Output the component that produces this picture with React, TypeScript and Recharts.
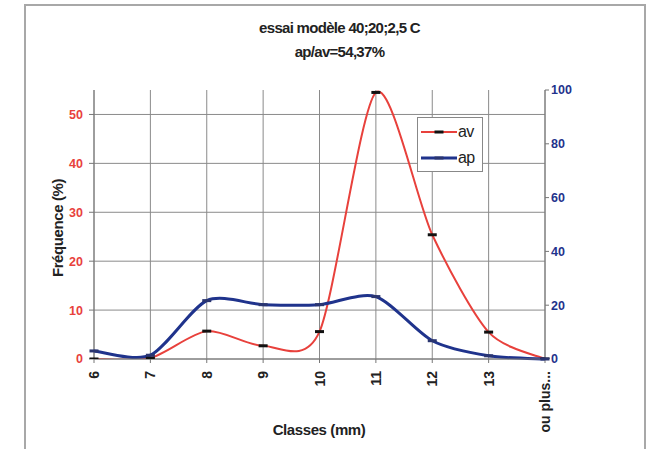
import React from "react";
import { LineChart, Line, XAxis, YAxis, CartesianGrid } from "recharts";

const classes = ["6", "7", "8", "9", "10", "11", "12", "13", "ou plus..."];
const avValues = [0, 0.2, 5.7, 2.7, 5.6, 54.5, 25.4, 5.5, 0];
const apValues = [3, 1.4, 21.7, 20.2, 20.2, 23.2, 6.8, 1.2, 0];
const leftTicks = [0, 10, 20, 30, 40, 50];
const rightTicks = [0, 20, 40, 60, 80, 100];

const data = classes.map((c, i) => ({ classe: c, av: avValues[i], ap: apValues[i] }));

const FONT = "'Liberation Sans', Arial, sans-serif";
const RED = "#e8413c";
const BLUE = "#1f338c";
const K = 7.5; // smoothing divisor

// Excel-like smooth line (cardinal bezier through the points)
const excelCurve = (context: any) => {
  let pts: [number, number][] = [];
  return {
    areaStart() {},
    areaEnd() {},
    lineStart() {
      pts = [];
    },
    point(x: number, y: number) {
      pts.push([+x, +y]);
    },
    lineEnd() {
      if (!pts.length) return;
      context.moveTo(pts[0][0], pts[0][1]);
      for (let i = 0; i < pts.length - 1; i++) {
        const p0 = pts[i - 1] || pts[i];
        const p1 = pts[i];
        const p2 = pts[i + 1];
        const p3 = pts[i + 2] || p2;
        context.bezierCurveTo(
          p1[0] + (p2[0] - p0[0]) / K,
          p1[1] + (p2[1] - p0[1]) / K,
          p2[0] - (p3[0] - p1[0]) / K,
          p2[1] - (p3[1] - p1[1]) / K,
          p2[0],
          p2[1]
        );
      }
    },
  };
};

const DashDot = (color: string) => (props: any) => {
  const { cx, cy, index } = props;
  if (cx == null || cy == null) return <g key={index} />;
  return <rect key={index} x={cx - 4.5} y={cy - 1.5} width={9} height={3} fill={color} />;
};

const XTick = (props: any) => {
  const { x, y, payload } = props;
  return (
    <text
      x={0}
      y={0}
      transform={`translate(${x + 5},${y + 6}) rotate(-90)`}
      textAnchor="end"
      fontSize={14}
      fontWeight="bold"
      fontFamily={FONT}
      fill="#222"
    >
      {payload.value}
    </text>
  );
};

export default function App() {
  return (
    <div style={{ position: "absolute", left: 0, top: 0, width: 653, height: 449, background: "#fff", overflow: "hidden" }}>
      <div
        style={{
          position: "absolute",
          left: 24,
          top: 4,
          width: 622,
          height: 460,
          border: "2px solid #a8a8a8",
          boxSizing: "border-box",
        }}
      />
      <div
        style={{
          position: "absolute",
          left: 0,
          width: 653,
          top: 16,
          textAlign: "center",
          fontFamily: FONT,
          fontWeight: "bold",
          fontSize: 15,
          letterSpacing: -0.7,
          lineHeight: "24px",
          color: "#222",
          paddingLeft: 26,
          boxSizing: "border-box",
        }}
      >
        <div>essai modèle 40;20;2,5 C</div>
        <div>ap/av=54,37%</div>
      </div>
      <LineChart
        width={653}
        height={449}
        data={data}
        margin={{ top: 90, right: 0, left: 0, bottom: 0 }}
        style={{ position: "absolute", left: 0, top: 0 }}
      >
        <CartesianGrid stroke="#8a8a8a" strokeWidth={1} yAxisId="left" horizontalValues={leftTicks} />
        <XAxis
          dataKey="classe"
          height={90}
          interval={0}
          tick={<XTick />}
          axisLine={{ stroke: "#777" }}
          tickLine={{ stroke: "#777" }}
          tickSize={4}
        />
        <YAxis
          yAxisId="left"
          width={94}
          domain={[0, 55]}
          ticks={leftTicks}
          allowDataOverflow
          tick={{ fill: RED, fontSize: 12.5, fontWeight: "bold", fontFamily: FONT, dx: -4 }}
          axisLine={{ stroke: "#777" }}
          tickLine={{ stroke: "#777" }}
          tickSize={5}
        />
        <YAxis
          yAxisId="right"
          orientation="right"
          width={108}
          domain={[0, 100]}
          ticks={rightTicks}
          tick={{ fill: BLUE, fontSize: 12.5, fontWeight: "bold", fontFamily: FONT }}
          axisLine={{ stroke: "#777" }}
          tickLine={{ stroke: "#777" }}
          tickSize={4}
        />
        <Line
          yAxisId="left"
          dataKey="av"
          type={excelCurve as any}
          stroke={RED}
          strokeWidth={2}
          dot={DashDot("#111")}
          isAnimationActive={false}
        />
        <Line
          yAxisId="right"
          dataKey="ap"
          type={excelCurve as any}
          stroke={BLUE}
          strokeWidth={3}
          dot={DashDot("#2a3570")}
          isAnimationActive={false}
        />
      </LineChart>
      <div
        style={{
          position: "absolute",
          left: 57,
          top: 228,
          transform: "translate(-50%, -50%) rotate(-90deg)",
          fontFamily: FONT,
          fontWeight: "bold",
          fontSize: 15,
          letterSpacing: -0.4,
          color: "#222",
          whiteSpace: "nowrap",
        }}
      >
        Fréquence (%)
      </div>
      <div
        style={{
          position: "absolute",
          left: 319,
          top: 429,
          transform: "translate(-50%, -50%)",
          fontFamily: FONT,
          fontWeight: "bold",
          fontSize: 15,
          letterSpacing: -0.4,
          color: "#222",
          whiteSpace: "nowrap",
        }}
      >
        Classes (mm)
      </div>
      <div
        style={{
          position: "absolute",
          left: 417,
          top: 117,
          width: 66,
          height: 55,
          border: "1px solid #888",
          background: "#fff",
          boxSizing: "border-box",
          fontFamily: FONT,
          fontSize: 16,
          color: "#222",
        }}
      >
        {[
          { name: "av", color: RED, mark: "#111", top: 5 },
          { name: "ap", color: BLUE, mark: "#2a3570", top: 31 },
        ].map((s) => (
          <div key={s.name} style={{ position: "absolute", left: 3, top: s.top, height: 18, display: "flex", alignItems: "center" }}>
            <svg width={36} height={16}>
              <line x1={0} y1={8} x2={36} y2={8} stroke={s.color} strokeWidth={s.name === "ap" ? 3 : 2} />
              <rect x={13.5} y={6.5} width={9} height={3} fill={s.mark} />
            </svg>
            <span style={{ marginLeft: 1, letterSpacing: -0.6 }}>{s.name}</span>
          </div>
        ))}
      </div>
    </div>
  );
}
